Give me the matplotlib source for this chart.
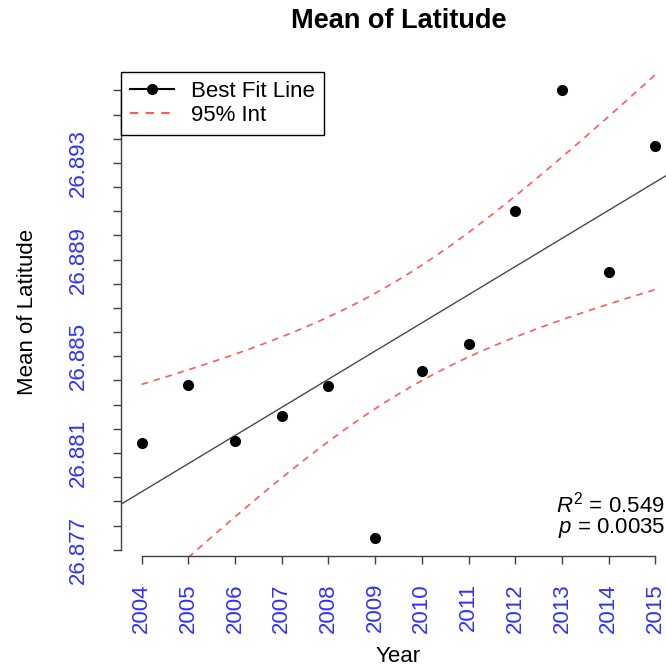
import numpy as np
import matplotlib
matplotlib.use("Agg")
import matplotlib.pyplot as plt
from matplotlib.lines import Line2D

plt.rcParams["font.family"] = ["Liberation Sans", "DejaVu Sans"]
plt.rcParams["mathtext.fontset"] = "custom"
plt.rcParams["mathtext.rm"] = "Liberation Sans"
plt.rcParams["mathtext.it"] = "Liberation Sans:italic"

# data
years = [2004, 2005, 2006, 2007, 2008, 2009, 2010, 2011, 2012, 2013, 2014, 2015]
mean_lat = [26.88141, 26.88383, 26.88150, 26.88252, 26.88376, 26.87748,
            26.88440, 26.88549, 26.89102, 26.89602, 26.88847, 26.89370]
y_ticks = [26.877, 26.878, 26.879, 26.880, 26.881, 26.882, 26.883, 26.884,
           26.885, 26.886, 26.887, 26.888, 26.889, 26.890, 26.891, 26.892,
           26.893, 26.894, 26.895, 26.896]
y_labels = ["26.877", "", "", "", "26.881", "", "", "", "26.885", "", "", "",
            "26.889", "", "", "", "26.893", "", "", ""]
r2_text = "0.549"
p_text = "0.0035"
t_crit = 2.228  # t(0.975, df=10)

x = np.array(years, dtype=float)
y = np.array(mean_lat)

# linear fit + confidence band
slope, intercept = np.polyfit(x, y, 1)
n = len(x)
resid = y - (slope * x + intercept)
s = np.sqrt(np.sum(resid ** 2) / (n - 2))
sxx = np.sum((x - x.mean()) ** 2)
xs = np.linspace(x.min(), x.max(), 200)
fit = slope * xs + intercept
half = t_crit * s * np.sqrt(1 / n + (xs - x.mean()) ** 2 / sxx)

fig = plt.figure(figsize=(6.66, 6.67), dpi=100)
ax = fig.add_axes([121 / 666, 111 / 667, 555 / 666, 484 / 667])

# R-style 4% padding
xr = x.max() - x.min()
yr = y.max() - y.min()
ax.set_xlim(x.min() - 0.04 * xr, x.max() + 0.04 * xr)
ax.set_ylim(y.min() - 0.04 * yr, y.max() + 0.04 * yr)

xl = np.array(ax.get_xlim())
ax.plot(xl, slope * xl + intercept, color="#4a4a4a", lw=1.0, zorder=2)
ax.plot(xs, fit + half, color="#ff5a5a", lw=1.2, dashes=(4, 3.5), zorder=2)
ax.plot(xs, fit - half, color="#ff5a5a", lw=1.2, dashes=(4, 3.5), zorder=2)
ax.plot(x, y, "o", color="black", ms=7, zorder=3)

for side in ["top", "right"]:
    ax.spines[side].set_visible(False)
ax.spines["left"].set_bounds(y_ticks[0], y_ticks[-1])
ax.spines["bottom"].set_bounds(years[0], years[-1])
for side in ["left", "bottom"]:
    ax.spines[side].set_color("#404040")
    ax.spines[side].set_linewidth(1.0)

ax.set_xticks(years)
ax.set_xticklabels([str(v) for v in years], rotation=90, color="#2f2fff", fontsize=16)
ax.set_yticks(y_ticks)
ax.set_yticklabels(y_labels, rotation=90, va="center", color="#2f2fff", fontsize=16)
ax.tick_params(axis="both", length=6, width=1.0, color="#404040")
ax.tick_params(axis="x", pad=13.5)
ax.tick_params(axis="y", pad=17)

fig.text(398 / 666, 1 - 662 / 667, "Year", ha="center", va="baseline", fontsize=16)
fig.text(33 / 666, 1 - 312 / 667, "Mean of Latitude", ha="center", va="baseline",
         rotation=90, rotation_mode="anchor", fontsize=16)

fig.text(399 / 666, 1 - 28 / 667, "Mean of Latitude", ha="center", va="baseline",
         fontsize=19.5, fontweight="bold")

ax.text(665 / 666, 1 - 512 / 667, r"$R^2$ = " + r2_text, transform=fig.transFigure,
        ha="right", va="baseline", fontsize=16)
ax.text(665 / 666, 1 - 533 / 667, r"$p$ = " + p_text, transform=fig.transFigure,
        ha="right", va="baseline", fontsize=16)

handles = [Line2D([], [], color="black", marker="o", ms=7, lw=1.5),
           Line2D([], [], color="#ff5a5a", lw=1.5, dashes=(4, 3.5))]
leg = ax.legend(handles, ["Best Fit Line", "95% Int"], loc="upper left",
                bbox_to_anchor=(0, 1), borderaxespad=0, fancybox=False,
                edgecolor="black", fontsize=16, handlelength=2.0,
                handletextpad=0.75, labelspacing=0.15, borderpad=0.4,
                framealpha=1)
leg.get_frame().set_linewidth(1.0)

fig.savefig("out.png", dpi=100)
